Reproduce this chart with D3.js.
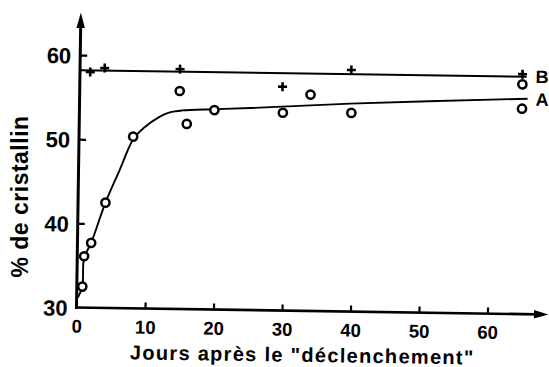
<!DOCTYPE html>
<html>
<head>
<meta charset="utf-8">
<script src="https://cdn.jsdelivr.net/npm/d3@7"></script>
<style>
  html, body { margin: 0; padding: 0; background: #fff; }
  svg { display: block; }
  text { font-family: "Liberation Sans", Arial, Helvetica, sans-serif; font-weight: bold; fill: #000; }
</style>
</head>
<body>
<svg id="chart" width="549" height="367"></svg>
<script>
// ---- data ----
const xTicks = [0, 10, 20, 30, 40, 50, 60];
const yTicks = [30, 40, 50, 60];

// Series A (open circles)
const aDays   = [0.8, 1.0, 2.0, 4.0, 7.9, 14.6, 15.7, 19.7, 29.7, 33.7, 39.7, 64.6, 64.6];
const aValues = [32.5, 36.1, 37.7, 42.5, 50.4, 55.9, 52.0, 53.7, 53.5, 55.7, 53.6, 57.3, 54.4];

// Series B (plus markers)
const bDays   = [1.5, 3.6, 14.6, 29.6, 39.6, 64.6];
const bValues = [58.0, 58.5, 58.5, 56.6, 58.7, 58.5];

// Fitted curve A
const aFitDays   = [0.2, 0.8, 1.0, 2.0, 4.0, 6.0, 8.0, 9.5, 11.7, 13.2, 15.0, 19.7, 25, 39.5, 65.4];
const aFitValues = [31.2, 32.5, 35.9, 37.7, 42.5, 46.4, 50.2, 51.5, 52.8, 53.35, 53.6, 53.8, 54.0, 54.7, 55.6];

// Fitted line B
const bFitDays   = [0, 65.2];
const bFitValues = [58.2, 58.2];

const seriesLabels = ["A", "B"];
const xTitle = "Jours après le \"déclenchement\"";
const yTitle = "% de cristallin";

// ---- layout ----
const svg = d3.select("#chart");
const ox = 76.5, oy = 307.5;
const x = d3.scaleLinear().domain([0, 60]).range([ox, ox + 60 * 6.85]);
const y = d3.scaleLinear().domain([30, 60]).range([oy, 55]);

const g = svg.append("g").attr("transform", `rotate(0.85, ${ox}, ${oy})`);

// axes lines with arrows
g.append("line").attr("x1", ox).attr("y1", oy + 1.5).attr("x2", ox).attr("y2", 24)
  .attr("stroke", "#000").attr("stroke-width", 3);
g.append("path").attr("d", `M${ox},12.5 L${ox - 4.2},28 L${ox + 4.2},28 Z`).attr("fill", "#000");
g.append("line").attr("x1", ox - 1.5).attr("y1", oy).attr("x2", 537).attr("y2", oy)
  .attr("stroke", "#000").attr("stroke-width", 2.6);
g.append("path").attr("d", `M548.5,${oy} L534,${oy - 4.2} L534,${oy + 4.2} Z`).attr("fill", "#000");

// y axis ticks/labels
const yAxis = d3.axisLeft(y).tickValues(yTicks).tickSizeInner(-7).tickSizeOuter(0).tickPadding(9);
const yg = g.append("g").attr("transform", `translate(${ox},0)`).call(yAxis);
yg.select(".domain").remove();
yg.selectAll(".tick line").attr("stroke", "#000").attr("stroke-width", 2.2)
  .filter(d => d === 30).remove();
yg.selectAll(".tick text").style("font-size", "22px").attr("dy", "0.36em");

// x axis ticks/labels
const xAxis = d3.axisBottom(x).tickValues(xTicks).tickSizeInner(-6).tickSizeOuter(0).tickPadding(12);
const xg = g.append("g").attr("transform", `translate(0,${oy})`).call(xAxis);
xg.select(".domain").remove();
xg.selectAll(".tick line").attr("stroke", "#000").attr("stroke-width", 2.2)
  .filter(d => d === 0).remove();
xg.selectAll(".tick text").style("font-size", "18.5px");
g.selectAll("g").attr("font-family", null).attr("font-size", null);

// fitted lines
const line = d3.line().x(d => x(d[0])).y(d => y(d[1])).curve(d3.curveCatmullRom.alpha(0.5));
g.append("path").datum(aFitDays.map((d, i) => [d, aFitValues[i]]))
  .attr("d", line).attr("fill", "none").attr("stroke", "#000").attr("stroke-width", 1.9);
g.append("path").datum(bFitDays.map((d, i) => [d, bFitValues[i]]))
  .attr("d", d3.line().x(d => x(d[0])).y(d => y(d[1]))).attr("fill", "none")
  .attr("stroke", "#000").attr("stroke-width", 1.9);

// markers A
g.selectAll("circle.a").data(aDays.map((d, i) => [d, aValues[i]])).join("circle")
  .attr("class", "a").attr("cx", d => x(d[0])).attr("cy", d => y(d[1])).attr("r", 4.1)
  .attr("fill", "#fff").attr("stroke", "#000").attr("stroke-width", 2.5);

// markers B
const plus = g.selectAll("g.b").data(bDays.map((d, i) => [d, bValues[i]])).join("g")
  .attr("class", "b").attr("transform", d => `translate(${x(d[0])},${y(d[1])})`);
plus.append("line").attr("x1", -4.5).attr("x2", 4.5).attr("y1", 0).attr("y2", 0)
  .attr("stroke", "#000").attr("stroke-width", 2.6);
plus.append("line").attr("x1", 0).attr("x2", 0).attr("y1", -4.5).attr("y2", 4.5)
  .attr("stroke", "#000").attr("stroke-width", 2.6);

// series labels
g.append("text").attr("x", x(aFitDays[aFitDays.length - 1]) + 8)
  .attr("y", y(aFitValues[aFitValues.length - 1]) + 7)
  .style("font-size", "18px").text(seriesLabels[0]);
g.append("text").attr("x", x(bFitDays[1]) + 9)
  .attr("y", y(bFitValues[1]) + 6)
  .style("font-size", "18px").text(seriesLabels[1]);

// axis titles
g.append("text").attr("x", 303).attr("y", 358.5).attr("text-anchor", "middle")
  .style("font-size", "20px").style("letter-spacing", "1.3px").text(xTitle);
svg.append("text").attr("transform", "translate(28,196.5) rotate(-90)").attr("text-anchor", "middle")
  .style("font-size", "23px").style("letter-spacing", "0.5px").text(yTitle);
</script>
</body>
</html>
